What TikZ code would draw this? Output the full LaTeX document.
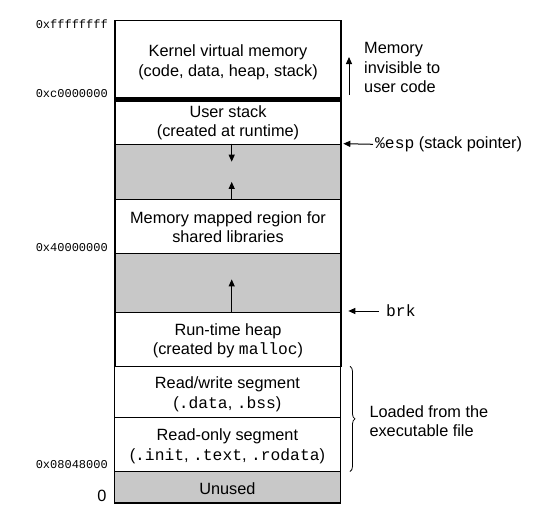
\documentclass[tikz,border=0pt]{standalone}
\usepackage{fontspec}
\setmainfont{Liberation Sans}
\setmonofont{Liberation Mono}
\usetikzlibrary{arrows.meta,decorations.pathreplacing,calc}
\definecolor{freegray}{RGB}{200,200,200}
\newcommand{\segfont}{\fontsize{16.3}{19.5}\selectfont}
\newcommand{\addrfont}{\fontsize{12}{14}\selectfont\ttfamily}
\newcommand{\dn}[2]{\raisebox{-#1pt}[\height][\depth]{#2}}
\begin{document}
\begin{tikzpicture}[x=1pt,y=-1pt,
  seg/.style={draw, line width=1.2pt, minimum width=226pt, inner sep=0pt, align=center, font=\segfont},
  freeseg/.style={seg, fill=freegray},
  addr/.style={anchor=base east, inner sep=0pt, font=\addrfont},
  side/.style={anchor=west, inner sep=0pt, align=left, font=\segfont},
  ptr/.style={-{Triangle[length=7pt,width=6pt]}, line width=1pt},
]
\useasboundingbox (0,0) rectangle (539,530);

% segments
\node[seg, minimum height=78pt] (kernel) at (228,59.5) {\dn{3}{Kernel virtual memory}\\\dn{3}{(code, data, heap, stack)}};
\node[seg, minimum height=45.8pt] (ustack) at (228,121.4) {\dn{1.5}{User stack}\\\dn{1.5}{(created at runtime)}};
\node[freeseg, minimum height=55pt] (gray1) at (228,171.8) {};
\node[seg, minimum height=54pt] (mmap) at (228,226.3) {\dn{1}{Memory mapped region for}\\\dn{1}{shared libraries}};
\node[freeseg, minimum height=59pt] (gray2) at (228,282.8) {};
\node[seg, minimum height=54pt] (heap) at (228,339.3) {\dn{1.5}{Run-time heap}\\\dn{1.5}{(created by \texttt{malloc})}};
\node[seg, minimum height=51pt] (rw) at (227.4,391.8) {\dn{2.5}{Read/write segment}\\\dn{2.5}{(\texttt{.data}, \texttt{.bss})}};
\node[seg, minimum height=54.2pt] (ro) at (227.4,444.4) {\dn{2}{Read-only segment}\\\dn{2}{(\texttt{.init}, \texttt{.text}, \texttt{.rodata})}};
\node[freeseg, minimum height=31.5pt] (unused) at (227.4,487.25) {\dn{1}{Unused}};

% thick kernel boundary
\draw[line width=5pt] (kernel.south west) -- (kernel.south east);

% growth arrows
\draw[ptr] ($(gray1.north)+(3.7,0)$) -- ++(0,18);
\draw[ptr] ($(gray1.south)+(3.7,0)$) -- ++(0,-18);
\draw[ptr] ($(gray2.south)+(3.7,0)$) -- ++(0,-33.5);

% address labels
\node[addr] (a1) at (108,28.3) {0xffffffff};
\node[addr] (a2) at (108,97.5) {0xc0000000};
\node[addr] (a3) at (108,251.5) {0x40000000};
\node[addr] (a4) at (108,468.5) {0x08048000};
\node[anchor=base east, inner sep=0pt, font=\segfont] (a0) at (106.7,501.7) {0};

% right side annotations
\node[side] (inv) at (364,67.5) {Memory\\invisible to\\user code};
\coordinate (invtail) at (349,95);
\coordinate (invtip) at (349,57);
\draw[ptr] (invtail) -- (invtip);

\node[side] (esp) at (375,144.3) {\texttt{\%esp} (stack pointer)};
\draw[ptr] ($(esp.west)+(-2,0)$) -- ($(gray1.north east)+(1.7,0)$);

\node[anchor=base west, inner sep=0pt, font=\segfont] (brk) at (386,316) {\texttt{brk}};
\coordinate (brktail) at (379,311);
\coordinate (brktip) at (348.3,311);
\draw[ptr] (brktail) -- (brktip);

\coordinate (bracetop) at (350,366.3);
\coordinate (bracebot) at (350,471.5);
\draw[decorate, decoration={brace, amplitude=5pt}, line width=0.8pt] (bracetop) -- (bracebot);
\node[side] (loaded) at (369.3,421.1) {Loaded from the\\executable file};
\end{tikzpicture}
\end{document}
